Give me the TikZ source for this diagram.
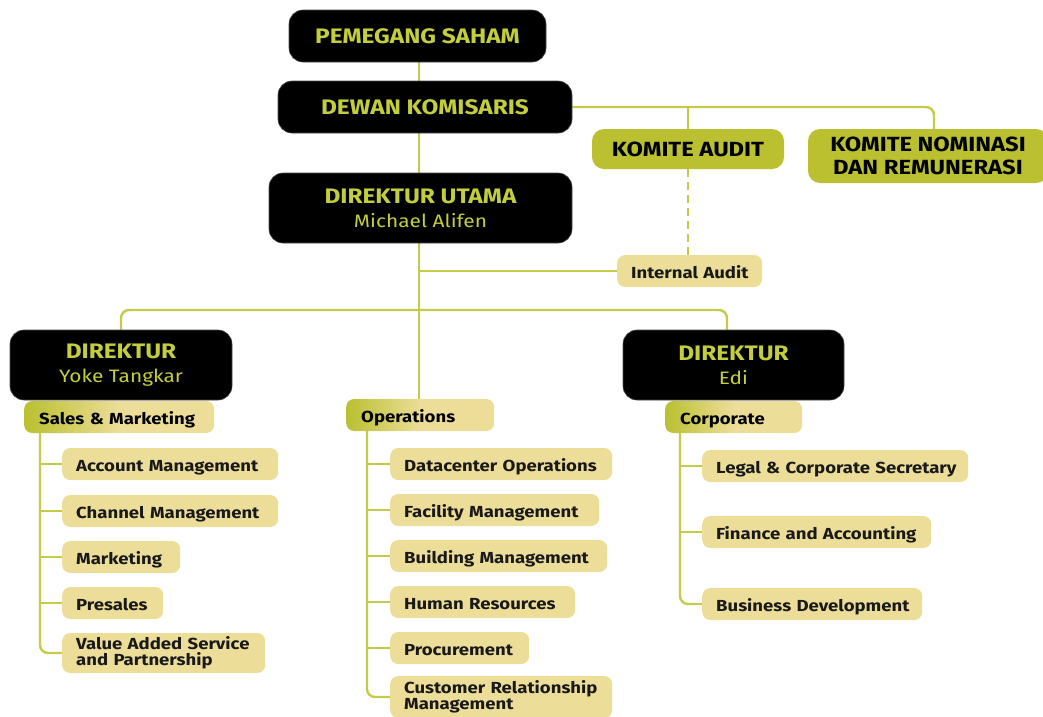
\documentclass[tikz,border=0pt]{standalone}
\usepackage{fontspec}
\setmainfont{Fira Sans}[FakeStretch=1.16]
\usetikzlibrary{calc,backgrounds}
\definecolor{olv}{RGB}{186,192,48}
\definecolor{olvtxt}{RGB}{196,206,60}
\definecolor{pale}{RGB}{236,221,152}
\definecolor{lnc}{RGB}{196,203,72}
\tikzset{
  darkbox/.style={rounded corners=14pt, fill=black, draw=black!70, line width=0.6pt, text=olvtxt, align=center, font=\bfseries\fontsize{21}{23}\selectfont},
  olvbox/.style={rounded corners=12pt, fill=olv, text=black, align=center, font=\bfseries\fontsize{20.5}{23}\selectfont, inner sep=0pt},
  palebox/.style={rounded corners=8pt, fill=pale, text=black!90, align=left, anchor=west, inner xsep=14pt, inner ysep=0pt, minimum height=32pt, font=\bfseries\fontsize{16}{15.5}\selectfont},
  oneline/.style={text height=15pt, text depth=0pt},
  headbox/.style={rounded corners=8pt, left color=olv, right color=pale, middle color=pale, text=black, align=left, anchor=west, inner xsep=15pt, inner ysep=0pt, minimum height=32pt, text height=15pt, text depth=0pt, font=\bfseries\fontsize{16}{15}\selectfont},
  conn/.style={draw=lnc, line width=2.4pt},
  dashconn/.style={draw=lnc, line width=2.4pt, dash pattern=on 8pt off 5pt}
}
\newcommand{\pname}[1]{{\mdseries\fontsize{18}{20}\selectfont #1}}
\begin{document}
\begin{tikzpicture}[x=1pt,y=-1pt]
\useasboundingbox (0,0) rectangle (1043,716);
\coordinate (sp) at (419,0);
\coordinate (bar) at (419,310);
\coordinate (dex) at (727,0);
\coordinate (knx) at (934,0);
\coordinate (sx) at (40,0);
\coordinate (ox) at (367,0);
\coordinate (cx) at (680,0);

% top nodes
\node[darkbox, minimum width=257pt, minimum height=52pt] (ps) at (417.5,36) {PEMEGANG SAHAM};
\node[darkbox, minimum width=294pt, minimum height=52pt] (dk) at (425,107) {DEWAN KOMISARIS};
\node[darkbox, minimum width=303pt, minimum height=70pt] (du) at (420.5,208) {DIREKTUR UTAMA\\[1pt]\pname{Michael Alifen}};
\node[olvbox, minimum width=192pt, minimum height=40pt] (ka) at (688,149) {KOMITE AUDIT};
\node[olvbox, minimum width=240pt, minimum height=54pt] (kn) at (928,156) {KOMITE NOMINASI\\DAN REMUNERASI};
\node[palebox, oneline, text width=117pt] (ia) at (617,271) {\mbox{Internal Audit}};

\node[darkbox, minimum width=222pt, minimum height=70pt] (dy) at (121,365) {DIREKTUR\\[1pt]\pname{Yoke Tangkar}};
\node[darkbox, minimum width=221pt, minimum height=70pt] (de) at (733.5,365) {DIREKTUR\\[1pt]\pname{Edi}};

\node[headbox, text width=160pt] (sm) at (24,417) {\mbox{Sales \& Marketing}};
\node[headbox, text width=118pt] (op) at (346,415) {\mbox{Operations}};
\node[headbox, text width=107pt] (co) at (665,417) {\mbox{Corporate}};

% sales children
\node[palebox, oneline, text width=188pt] (am) at (62,464) {\mbox{Account Management}};
\node[palebox, oneline, text width=188pt] (cm) at (62,511) {\mbox{Channel Management}};
\node[palebox, oneline, text width=90pt] (mk) at (62,557) {\mbox{Marketing}};
\node[palebox, oneline, text width=73pt] (pr) at (62,603) {\mbox{Presales}};
\node[palebox, text width=175pt, minimum height=40pt] (va) at (62,653) {\mbox{Value Added Service}\\\mbox{and Partnership}};

% operations children
\node[palebox, oneline, text width=194pt] (dc) at (390,464) {\mbox{Datacenter Operations}};
\node[palebox, oneline, text width=181pt] (fm) at (390,510) {\mbox{Facility Management}};
\node[palebox, oneline, text width=189pt] (bm) at (390,556) {\mbox{Building Management}};
\node[palebox, oneline, text width=157pt] (hr) at (390,602) {\mbox{Human Resources}};
\node[palebox, oneline, text width=111pt] (pc) at (390,648) {\mbox{Procurement}};
\node[palebox, text width=194pt, minimum height=42pt] (cr) at (390,697) {\mbox{Customer Relationship}\\\mbox{Management}};

% corporate children
\node[palebox, oneline, text width=238pt] (lc) at (702,466) {\mbox{Legal \& Corporate Secretary}};
\node[palebox, oneline, text width=201pt] (fa) at (702,532) {\mbox{Finance and Accounting}};
\node[palebox, oneline, text width=192pt] (bd) at (702,604) {\mbox{Business Development}};

% connectors
\begin{pgfonlayer}{background}
\draw[conn] (ps.south -| sp) -- (dk.north -| sp);
\draw[conn] (dk.south -| sp) -- (du.north -| sp);
\draw[conn] (du.south -| sp) -- (op.north -| sp);
\draw[conn] (ia.west -| sp) -- (ia.west);
\draw[conn, rounded corners=8pt] (dy.north) |- (bar) -| (de.north -| dex);
\draw[conn, rounded corners=8pt] (dk.east) -| (kn.north -| knx);
\draw[conn] (ka.north) -- (ka.north |- dk.east);
\draw[dashconn] (ka.south) -- (ia.north -| ka.south);
% sales
\draw[conn, rounded corners=8pt] (sm.south -| sx) |- (va.west);
\foreach \n in {am,cm,mk,pr} \draw[conn] (\n.west -| sx) -- (\n.west);
% operations
\draw[conn, rounded corners=8pt] (op.south -| ox) |- (cr.west);
\foreach \n in {dc,fm,bm,hr,pc} \draw[conn] (\n.west -| ox) -- (\n.west);
% corporate
\draw[conn, rounded corners=8pt] (co.south -| cx) |- (bd.west);
\foreach \n in {lc,fa} \draw[conn] (\n.west -| cx) -- (\n.west);
\end{pgfonlayer}
\end{tikzpicture}
\end{document}
